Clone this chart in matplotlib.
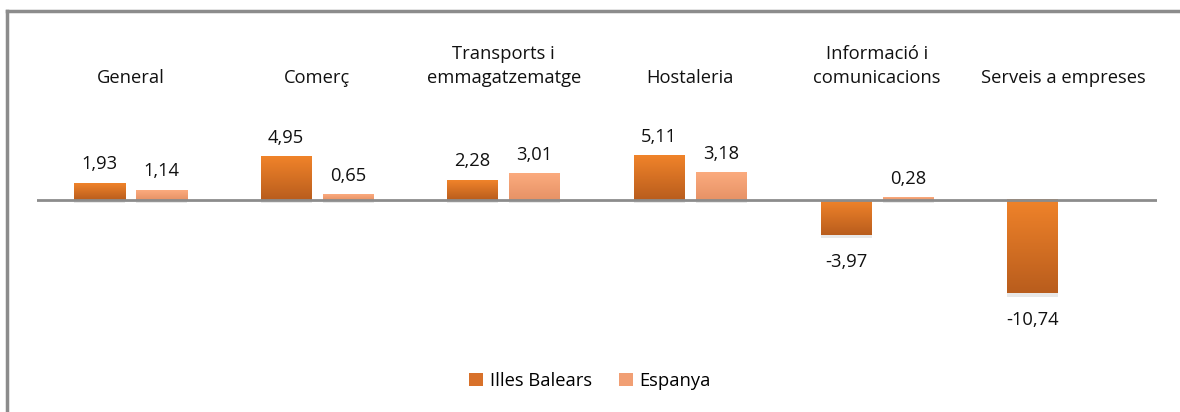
import numpy as np
import matplotlib.pyplot as plt
from matplotlib.lines import Line2D
from matplotlib.patches import Patch

categories = ["General", "Comerç", "Transports i\nemmagatzematge", "Hostaleria",
              "Informació i\ncomunicacions", "Serveis a empreses"]
illes = [1.93, 4.95, 2.28, 5.11, -3.97, -10.74]
espanya = [1.14, 0.65, 3.01, 3.18, 0.28, np.nan]
series_names = ["Illes Balears", "Espanya"]

plt.rcParams['font.family'] = ['Open Sans', 'DejaVu Sans']

W, H = 1180, 412
fig = plt.figure(figsize=(W / 100, H / 100), dpi=100)

def px_box(x0, y0, x1, y1):
    return [x0 / W, 1 - y1 / H, (x1 - x0) / W, (y1 - y0) / H]

ax = fig.add_axes(px_box(37, 20, 1157, 360))
ppu = 8.7  # pixels per unit
ax.set_xlim(0, len(categories))
ax.set_ylim(-(360 - 200) / ppu, (200 - 20) / ppu)
ax.axis('off')

x = np.arange(len(categories)) + 0.5
off = 31 / (1120 / 6)
bw = 51 / (1120 / 6)
fs = 13.2

grads = {
    0: ("#f0832a", "#b95d1d"),
    1: ("#fbab7e", "#e79266"),
}

def gradient_bar(xc, val, top_c, bot_c):
    if np.isnan(val):
        return
    c1 = np.array(plt.matplotlib.colors.to_rgb(top_c))
    c2 = np.array(plt.matplotlib.colors.to_rgb(bot_c))
    t = np.linspace(0, 1, 64)[:, None]
    img = c1 * (1 - t) + c2 * t
    if val >= 0:
        ext = (xc - bw / 2, xc + bw / 2, 0, val)
    else:
        ext = (xc - bw / 2, xc + bw / 2, val, 0)
    # soft shadow
    sh = plt.Rectangle((xc - bw / 2, min(0, val) - 0.4), bw, abs(val) + 0.1,
                       color="#999999", alpha=0.22, lw=0, zorder=1)
    ax.add_patch(sh)
    ax.imshow(img[:, None, :], extent=ext, aspect='auto', origin='upper', zorder=3)

for i in range(len(categories)):
    gradient_bar(x[i] - off, illes[i], *grads[0])
    gradient_bar(x[i] + off, espanya[i], *grads[1])
    for xc, v in ((x[i] - off, illes[i]), (x[i] + off, espanya[i])):
        if np.isnan(v):
            continue
        lab = f"{v:.2f}".replace(".", ",")
        if v >= 0:
            ax.annotate(lab, (xc, v), xytext=(0, 7), textcoords='offset points',
                        ha='center', va='bottom', fontsize=fs, color='#111111')
        else:
            ax.annotate(lab, (xc, v), xytext=(0, -13), textcoords='offset points',
                        ha='center', va='top', fontsize=fs, color='#111111')
    ax.text(x[i], (200 - 87) / ppu, categories[i], ha='center', va='bottom',
            fontsize=fs, color='#111111', linespacing=1.4)

ax.axhline(0, color='#8c8c8c', lw=2, zorder=4)
ax.set_xlim(0, len(categories))

# frame
fig.add_artist(Line2D([7 / W, 7 / W], [0, 1 - 11 / H], color='#8c8c8c', lw=2.5))
fig.add_artist(Line2D([7 / W, 1], [1 - 11 / H, 1 - 11 / H], color='#8c8c8c', lw=2.5))

handles = [Patch(facecolor="#d8712a", edgecolor='none'),
           Patch(facecolor="#f19f74", edgecolor='none')]
fig.legend(handles, series_names, loc='center', bbox_to_anchor=(590 / W, 1 - 381 / H),
           ncol=2, frameon=False, fontsize=fs, handlelength=0.75, handleheight=0.75,
           handletextpad=0.35, columnspacing=1.5)

fig.savefig("out.png", dpi=100)
